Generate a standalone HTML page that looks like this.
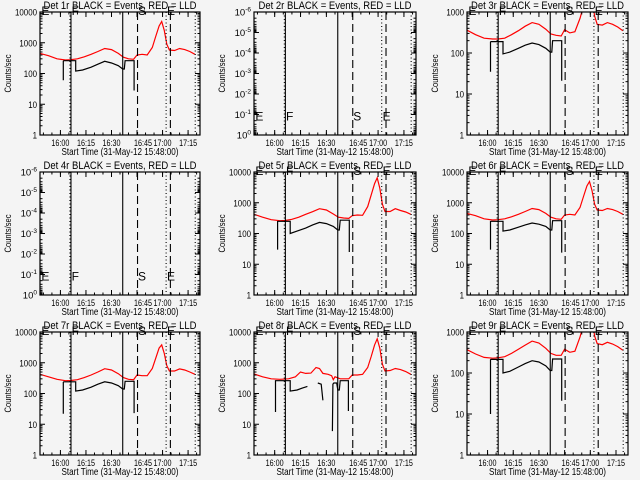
<!DOCTYPE html>
<html><head><meta charset="utf-8"><style>
body{margin:0;background:#f4f4f4;}
svg{display:block;font-family:"Liberation Sans",sans-serif;}
</style></head><body>
<svg id="c" width="640" height="480" viewBox="0 0 640 480"></svg>
<script>
// time in minutes after 15:48:00
const redTimes = [0,5,10,15,18,22,26,30,34,38,42,46,49,52,55,57,60,63,66,68,70,71.5,73,74.5,76,79,82,85,88,91];
const red1 = [450,380,300,275,280,300,350,420,520,650,600,450,340,300,290,400,420,400,700,1600,3500,4900,2500,900,580,560,650,600,520,420];
const red3 = [360,280,230,220,220,230,280,350,450,550,500,380,290,270,260,370,310,330,700,1400,3000,4500,2200,800,500,480,550,500,430,350];
const red5 = [420,340,280,260,265,290,340,420,510,640,580,430,340,320,310,380,400,390,750,1800,4200,6500,3000,900,520,520,640,560,500,420];
const red7 = [420,350,290,260,265,280,330,400,500,640,580,440,330,290,280,400,380,380,650,1400,3000,3800,2000,800,540,540,630,580,500,420];
const red9 = [370,290,240,230,235,250,300,380,480,600,540,400,300,270,270,380,320,340,750,1500,3200,4800,2300,800,520,490,560,510,440,360];
const red8Times = [0,5,10,15,20,24,27,30,33,36,38,40,43,45,46,47,50,55,57,60,63,66,68,70,71.5,73,74.5,76,79,82,85,88,91];
const red8 = [430,350,300,290,300,350,500,450,460,700,650,450,420,380,280,350,300,300,400,400,420,700,1600,3800,6000,3000,900,540,560,650,600,520,420];
const blackTimes = [13.7,13.7,14,18,21,21,25,30,34,38,42,46,48.6,49.5,50,55,55.3,55.3];
const black1 = [60,250,260,260,260,120,130,160,200,250,220,180,140,140,260,260,260,28];
const black3 = [35,185,190,190,190,95,105,130,155,175,160,130,105,105,200,200,200,21];
const black5 = [30,245,250,250,250,100,120,150,190,230,210,170,130,130,270,270,270,25];
const black6 = [30,245,250,250,250,120,130,160,190,220,200,170,130,130,260,260,260,24];
const black7 = [22,230,240,240,240,120,130,160,200,240,220,180,140,140,250,250,250,23];
const black9 = [10,210,215,215,215,100,110,140,170,200,185,150,115,115,220,220,220,21];
const black8Times = [12.5,12.5,13,18,21,21,25,28,31,null,37,39,40,null,45.5,45.8,46.3,48,48.6,49.5,50,54.5,54.8,54.8];
const black8 = [25,260,260,260,260,120,130,150,170,null,220,200,60,null,6,200,220,220,130,130,260,260,260,27];
const markTimes = [17.6,18.2,48.6,57.3,74.1,76.6,91.2];
const markStyles = ['dot','solid','solid','dash','dot','dash','dot'];
const letterTimes = [0.8,18.6,57.6,74.6];
const letters = ['E','F','S','E'];
const tickLabels = ['16:00','16:15','16:30','16:45','17:00','17:15'];
const tickTimes = [12,27,42,57,72,87];

const colX=[[40,200],[254,416],[467,628]], rowY=[[12,135],[172,295],[332,455]];
const panels=[
 {n:1,red:red1,rt:redTimes,blk:black1,bt:blackTimes,lo:0,hi:4},
 {n:2,empty:true},
 {n:3,red:red3,rt:redTimes,blk:black3,bt:blackTimes,lo:0,hi:3},
 {n:4,empty:true},
 {n:5,red:red5,rt:redTimes,blk:black5,bt:blackTimes,lo:0,hi:4},
 {n:6,red:red1,rt:redTimes,blk:black6,bt:blackTimes,lo:0,hi:4},
 {n:7,red:red7,rt:redTimes,blk:black7,bt:blackTimes,lo:0,hi:4},
 {n:8,red:red8,rt:red8Times,blk:black8,bt:black8Times,lo:0,hi:4},
 {n:9,red:red9,rt:redTimes,blk:black9,bt:blackTimes,lo:0,hi:3}
];
const svg=document.getElementById('c');const NS='http://www.w3.org/2000/svg';
function mk(t,a,p){const e=document.createElementNS(NS,t);for(const k in a)e.setAttribute(k,a[k]);(p||svg).appendChild(e);return e;}
const defs=mk('defs',{});
panels.forEach((p,i)=>{
 const [x0,x1]=colX[i%3],[y0,y1]=rowY[Math.floor(i/3)];
 const g=mk('g',{});
 
 
 const cp=mk('clipPath',{id:'cp'+i},defs);mk('rect',{x:x0,y:y0,width:x1-x0,height:y1-y0},cp);
 const xs=t=>x0+(t/94)*(x1-x0);
 const lo=p.empty?-6:p.lo, hi=p.empty?0:p.hi;
 const ys=v=>p.empty?y0+(Math.log10(v)-lo)/(hi-lo)*(y1-y0):y1-(Math.log10(v)-lo)/(hi-lo)*(y1-y0);
 const cx=(x0+x1)/2;
 const pl=mk('g',{'clip-path':`url(#cp${i})`},g);
 const path=(ts,vs)=>{let d='',pen=false;ts.forEach((t,k)=>{if(t==null||vs[k]==null){pen=false;return;}d+=(pen?'L':'M')+xs(t).toFixed(1)+','+ys(vs[k]).toFixed(1);pen=true;});return d;};
 if(!p.empty){
  const r=mk('path',{d:path(p.rt,p.red),fill:'none',stroke:'#ff0000','stroke-width':1.2},pl);
  
  
  const b=mk('path',{d:path(p.bt,p.blk),fill:'none',stroke:'#000','stroke-width':1.2},pl);
  
  
 }
 markTimes.forEach((t,k)=>{const x=xs(t);const st=markStyles[k];
  const l=mk('line',{x1:x,x2:x,y1:y0,y2:y1,stroke:'#000','stroke-width':1.1,'stroke-dasharray':st=='dot'?'1,2.5':st=='dash'?'8,4':'none'},pl);
  
  
 });
 letterTimes.forEach((t,k)=>{
  const ly=p.empty?ys(0.1)+6:y0+3;
  const lt=mk('text',{x:xs(t),y:ly,'font-size':12,'font-weight':'lighter'},g);lt.textContent=letters[k];
  
  
 });
 const tt=mk('text',{x:cx,y:y0-3,'text-anchor':'middle','font-size':11,textLength:153,lengthAdjust:'spacingAndGlyphs',fill:'#000'},g);
 tt.textContent='Det '+p.n+'r BLACK = Events, RED = LLD';
 
 
 const yl=mk('text',{x:0,y:0,'text-anchor':'middle','font-size':9,textLength:38,lengthAdjust:'spacingAndGlyphs',transform:`translate(${x0-29},${(y0+y1)/2}) rotate(-90)`},g);
 yl.textContent='Counts/sec';
 
 
 const xl=mk('text',{x:cx,y:y1+20,'text-anchor':'middle','font-size':10.5,textLength:117,lengthAdjust:'spacingAndGlyphs'},g);
 xl.textContent='Start Time (31-May-12 15:48:00)';
 
 
 tickTimes.forEach((t,k)=>{
  const x=xs(t);
  mk('line',{x1:x,x2:x,y1:y1,y2:y1-5,stroke:'#000'},g);mk('line',{x1:x,x2:x,y1:y0,y2:y0+5,stroke:'#000'},g);
  const lb=mk('text',{x:x+(k==3?6:0),y:y1+11,'text-anchor':'middle','font-size':9.5,textLength:18,lengthAdjust:'spacingAndGlyphs'},g);lb.textContent=tickLabels[k];
  
  
 });
 for(let t=2;t<94;t+=5){const x=xs(t);mk('line',{x1:x,x2:x,y1:y1,y2:y1-2.5,stroke:'#000'},g);mk('line',{x1:x,x2:x,y1:y0,y2:y0+2.5,stroke:'#000'},g);}
 for(let d=lo;d<=hi;d++){
  const y=ys(Math.pow(10,d));
  mk('line',{x1:x0,x2:x0+5,y1:y,y2:y,stroke:'#000'},g);mk('line',{x1:x1,x2:x1-5,y1:y,y2:y,stroke:'#000'},g);
  const lb=mk('text',{x:x0-3,y:y+3.5,'text-anchor':'end','font-size':9.5},g);
  if(p.empty){lb.textContent='10';const s=mk('tspan',{dy:-4,'font-size':6.5},lb);s.textContent=String(d);}
  else{const s=String(Math.pow(10,d));lb.textContent=s;lb.setAttribute('textLength',s.length*4.4);lb.setAttribute('lengthAdjust','spacingAndGlyphs');}
  
  
  if(d<hi)for(let m=2;m<10;m++){const yy=ys(m*Math.pow(10,d));mk('line',{x1:x0,x2:x0+2.5,y1:yy,y2:yy,stroke:'#000'},g);mk('line',{x1:x1,x2:x1-2.5,y1:yy,y2:yy,stroke:'#000'},g);}
 }
 const bx=mk('rect',{x:x0,y:y0,width:x1-x0,height:y1-y0,fill:'none',stroke:'#000','stroke-width':1.2},g);
 
 
});
</script>
</body></html>
